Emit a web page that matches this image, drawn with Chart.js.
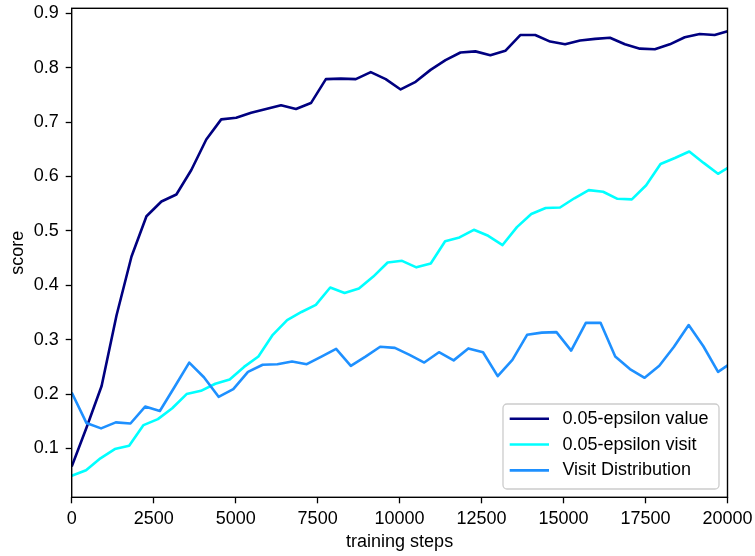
<!DOCTYPE html>
<html lang="en">
<head>
<meta charset="UTF-8">
<title>score / training steps</title>
<script src="https://cdn.jsdelivr.net/npm/chart.js@4.4.0/dist/chart.umd.min.js"></script>
<style>
    html, body { margin: 0; padding: 0; background: #fff; }
    #chartWrap { width: 755px; height: 556px; }
</style>
</head>
<body>
<div id="chartWrap"><canvas id="scoreChart" width="755" height="556"></canvas></div>
<script>
/**
 * 学習ステップごとのスコア
 */

// 0.05-epsilon value
const valueSteps = [0, 456, 912, 1368, 1824, 2280, 2736, 3192, 3648, 4104, 4560, 5016, 5472, 5928, 6384,
    6840, 7296, 7752, 8208, 8664, 9120, 9576, 10032, 10488, 10944, 11400, 11856, 12312, 12768, 13224,
    13680, 14136, 14592, 15048, 15504, 15960, 16416, 16872, 17328, 17784, 18240, 18696, 19152, 19608, 20064];
const valueScores = [0.067, 0.139, 0.215, 0.345, 0.453, 0.527, 0.554, 0.567, 0.612, 0.668, 0.705, 0.708, 0.717, 0.724, 0.731,
    0.724, 0.735, 0.779, 0.780, 0.779, 0.792, 0.779, 0.760, 0.774, 0.796, 0.814, 0.828, 0.830, 0.823, 0.831,
    0.860, 0.860, 0.848, 0.843, 0.850, 0.853, 0.855, 0.843, 0.835, 0.834, 0.843, 0.856, 0.862, 0.860, 0.868];

// 0.05-epsilon visit
const visitSteps = [0, 438, 876, 1314, 1752, 2190, 2628, 3066, 3504, 3942, 4380, 4818, 5256, 5694, 6132, 6570,
    7008, 7446, 7884, 8322, 8760, 9198, 9636, 10074, 10512, 10950, 11388, 11826, 12264, 12702, 13140, 13578,
    14016, 14454, 14892, 15330, 15768, 16206, 16644, 17082, 17520, 17958, 18396, 18834, 19272, 19710, 20148];
const visitScores = [0.050, 0.060, 0.082, 0.099, 0.105, 0.143, 0.154, 0.174, 0.200, 0.206, 0.219, 0.227, 0.250, 0.269, 0.309, 0.336,
    0.351, 0.364, 0.396, 0.386, 0.394, 0.416, 0.442, 0.445, 0.433, 0.440, 0.481, 0.488, 0.502, 0.491, 0.474, 0.507,
    0.531, 0.542, 0.543, 0.560, 0.575, 0.572, 0.559, 0.558, 0.584, 0.623, 0.634, 0.646, 0.625, 0.605, 0.621];

// Visit Distribution
const distSteps = [0, 448, 896, 1344, 1792, 2240, 2688, 3136, 3584, 4032, 4480, 4928, 5376, 5824, 6272, 6720,
    7168, 7616, 8064, 8512, 8960, 9408, 9856, 10304, 10752, 11200, 11648, 12096, 12544, 12992, 13440, 13888,
    14336, 14784, 15232, 15680, 16128, 16576, 17024, 17472, 17920, 18368, 18816, 19264, 19712, 20160];
const distScores = [0.203, 0.147, 0.137, 0.148, 0.146, 0.177, 0.169, 0.213, 0.258, 0.231, 0.195, 0.209, 0.241, 0.254, 0.255, 0.260,
    0.255, 0.269, 0.283, 0.252, 0.269, 0.287, 0.285, 0.272, 0.258, 0.277, 0.262, 0.284, 0.277, 0.233, 0.263, 0.309,
    0.313, 0.314, 0.280, 0.331, 0.331, 0.269, 0.246, 0.230, 0.252, 0.287, 0.327, 0.288, 0.241, 0.259];

const seriesLabels = ['0.05-epsilon value', '0.05-epsilon visit', 'Visit Distribution'];
const seriesColors = ['#000080', '#00ffff', '#1e90ff'];

const xTicks = [0, 2500, 5000, 7500, 10000, 12500, 15000, 17500, 20000];
const yTicks = [0.1, 0.2, 0.3, 0.4, 0.5, 0.6, 0.7, 0.8, 0.9];

const FONT = '"Liberation Sans", Arial, sans-serif';
const LINE_WIDTH = 2.6;

function toPoints(steps, scores) {
    return steps.map((s, i) => ({ x: s, y: scores[i] }));
}

// 枠線（四辺）
const framePlugin = {
    id: 'frame',
    afterDatasetsDraw(chart) {
        const { ctx, chartArea } = chart;
        ctx.save();
        ctx.strokeStyle = '#000';
        ctx.lineWidth = 1.4;
        ctx.strokeRect(chartArea.left, chartArea.top,
            chartArea.right - chartArea.left, chartArea.bottom - chartArea.top);
        ctx.restore();
    }
};

// 右下の凡例
const boxLegendPlugin = {
    id: 'boxLegend',
    afterDraw(chart) {
        const { ctx, chartArea } = chart;
        const w = 216, h = 85;
        const x = chartArea.right - 8.5 - w;
        const y = chartArea.bottom - 8.3 - h;
        ctx.save();
        ctx.beginPath();
        ctx.roundRect(x, y, w, h, 4);
        ctx.fillStyle = 'rgba(255, 255, 255, 0.8)';
        ctx.fill();
        ctx.strokeStyle = '#cccccc';
        ctx.lineWidth = 1.3;
        ctx.stroke();

        ctx.font = `18px ${FONT}`;
        ctx.textBaseline = 'middle';
        ctx.fillStyle = '#000';
        chart.data.datasets.forEach((ds, i) => {
            const cy = y + 14.7 + i * 25.85;
            ctx.beginPath();
            ctx.moveTo(x + 6.7, cy);
            ctx.lineTo(x + 46, cy);
            ctx.strokeStyle = ds.borderColor;
            ctx.lineWidth = ds.borderWidth;
            ctx.stroke();
            ctx.fillText(ds.label, x + 59.4, cy);
        });
        ctx.restore();
    }
};

function makeDataset(i, steps, scores, order) {
    return {
        label: seriesLabels[i],
        data: toPoints(steps, scores),
        borderColor: seriesColors[i],
        backgroundColor: seriesColors[i],
        borderWidth: LINE_WIDTH,
        order: order
    };
}

new Chart(document.getElementById('scoreChart'), {
    type: 'line',
    data: {
        datasets: [
            makeDataset(0, valueSteps, valueScores, 3),
            makeDataset(1, visitSteps, visitScores, 2),
            makeDataset(2, distSteps, distScores, 1)
        ]
    },
    options: {
        responsive: false,
        animation: false,
        layout: { padding: { left: 0, top: 8.3, right: 27.5, bottom: 0 } },
        elements: {
            line: { tension: 0, fill: false, borderJoinStyle: 'round' },
            point: { radius: 0, hoverRadius: 0 }
        },
        datasets: { line: { clip: 0 } },
        plugins: {
            legend: { display: false },
            tooltip: { enabled: false }
        },
        scales: {
            x: {
                type: 'linear',
                min: 0,
                max: 20000,
                afterBuildTicks: (scale) => { scale.ticks = xTicks.map(v => ({ value: v })); },
                afterFit: (scale) => {
                    scale.height = 58.7;
                    scale.paddingLeft = 0;
                    scale.paddingRight = 0;
                },
                grid: { display: true, drawOnChartArea: false, drawTicks: true, tickLength: 6, tickColor: '#000', tickWidth: 1.3 },
                border: { display: false },
                ticks: {
                    autoSkip: false,
                    maxRotation: 0,
                    padding: 5,
                    color: '#000',
                    font: { family: FONT, size: 18 },
                    callback: (value) => String(value)
                },
                title: {
                    display: true,
                    text: 'training steps',
                    color: '#000',
                    font: { family: FONT, size: 18 },
                    padding: { top: 0, bottom: 3 }
                }
            },
            y: {
                type: 'linear',
                min: 0.0103,
                max: 0.9092,
                afterBuildTicks: (scale) => { scale.ticks = yTicks.map(v => ({ value: v })); },
                afterFit: (scale) => {
                    scale.width = 71.7;
                    scale.paddingTop = 0;
                    scale.paddingBottom = 0;
                },
                grid: { display: true, drawOnChartArea: false, drawTicks: true, tickLength: 6, tickColor: '#000', tickWidth: 1.3 },
                border: { display: false },
                ticks: {
                    padding: 7,
                    color: '#000',
                    font: { family: FONT, size: 18 },
                    callback: (value) => value.toFixed(1)
                },
                title: {
                    display: true,
                    text: 'score',
                    color: '#000',
                    font: { family: FONT, size: 18 },
                    padding: { top: 7, bottom: 0 }
                }
            }
        }
    },
    plugins: [framePlugin, boxLegendPlugin]
});
</script>
</body>
</html>
